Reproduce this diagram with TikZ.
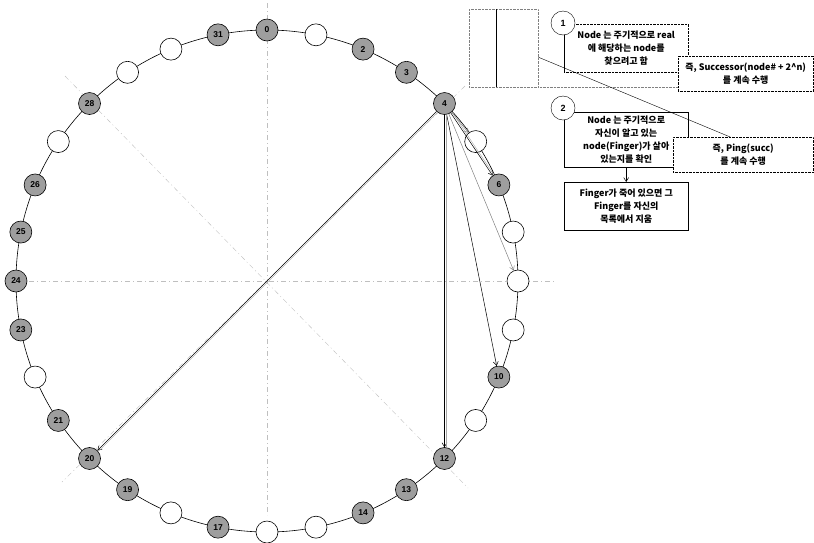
\documentclass[tikz,border=0pt]{standalone}
\usepackage{fontspec}
\setmainfont{Liberation Sans}
\newfontfamily\kr{Noto Sans CJK KR}
\usetikzlibrary{arrows.meta, positioning, calc}

\begin{document}
\begin{tikzpicture}[
    x=1pt, y=-1pt,
    real/.style={circle, draw, line width=0.6pt, fill=black!38, minimum size=22pt, inner sep=0pt, font=\bfseries\fontsize{8.5}{8.5}\selectfont},
    virt/.style={circle, draw, line width=0.6pt, fill=white, minimum size=22pt, inner sep=0pt},
    guide/.style={gray!50, line width=0.4pt, dash pattern=on 5pt off 3pt on 1pt off 3pt},
    ptr/.style={-{Straight Barb[length=4pt, width=5pt]}, line width=0.5pt},
    twin/.style={gray!70, line width=0.4pt, transform canvas={xshift=1.8pt}},
    note/.style={draw, fill=white, inner sep=0pt, align=center, anchor=north west, font=\kr\bfseries\fontsize{9}{13}\selectfont},
    soft/.style={note, densely dotted},
    numc/.style={circle, draw, fill=white, minimum size=24pt, inner sep=0pt, font=\bfseries\fontsize{9}{9}\selectfont}
]
    \useasboundingbox (0,0) rectangle (814,542);

    \coordinate (c) at (267,281);
    \foreach \k in {0,...,31}
        \coordinate (p\k) at ({267+251*sin(\k*11.25)},{281-251*cos(\k*11.25)});

    \draw[guide] (267,3) -- (267,515);
    \draw[guide] (5,281) -- (555,281);
    \draw[guide] (65,76) -- (468,488);
    \draw[guide] (465,86) -- (62,482);
    \draw[line width=0.6pt] (c) circle[radius=251];

    \foreach \k in {0,2,3,4,6,10,12,13,14,17,19,20,21,23,24,25,26,28,31}
        \node[real] (n\k) at (p\k) {\k};
    \foreach \k in {1,5,7,8,9,11,15,16,18,22,27,29,30}
        \node[virt] (n\k) at (p\k) {};

    \draw[ptr, gray] (n4) -- (n5);
    \draw[ptr] (n4) -- (n6);
    \draw[twin] (n4) -- (n6);
    \draw[ptr, gray] (n4) -- (n8);
    \draw[ptr] (n4) -- (n10);
    \draw[ptr] (n4) -- (n12);
    \draw[twin] (n4) -- (n12);
    \draw[ptr] (n4) -- (n20);
    \draw[twin] (n4) -- (n20);

    \node[draw=gray, densely dotted, minimum width=69pt, minimum height=78pt, inner sep=0pt, anchor=north west] (tbl) at (469,9) {};
    \draw[line width=0.7pt] ([xshift=27pt]tbl.north west) -- ([xshift=27pt]tbl.south west);

    \node[soft, minimum width=124pt, minimum height=48pt] (b1) at (564,24) {Node 는 주기적으로 real\\에 해당하는 node를\\찾으려고 함};
    \draw (b1.north west) -- (b1.south west);
    \node[soft, minimum width=135pt, minimum height=35pt] (succ) at (678,56) {즉, Successor(node\# + 2\textasciicircum n)\\를 계속 수행};
    \draw[gray, densely dotted] (tbl.south east) -- (tbl.south east -| succ.west);

    \node[note, minimum width=124pt, minimum height=55pt] (b2) at (564,112) {Node 는 주기적으로\\자신이 알고 있는\\node(Finger)가 살아\\있는지를 확인};
    \node[note, minimum width=124pt, minimum height=48pt] (b3) at (564,182) {Finger가 죽어 있으면 그\\Finger를 자신의\\목록에서 지움};
    \draw[ptr] (b2.south) -- (b3.north);

    \node[soft, minimum width=140pt, minimum height=35pt] (ping) at (673,137) {즉, Ping(succ)\\를 계속 수행};
    \draw ([yshift=-9pt]tbl.east) -- ([xshift=-13pt]ping.north);

    \node[numc] (s1) at (563,23) {1};
    \node[numc] (s2) at (563,108) {2};
\end{tikzpicture}
\end{document}
